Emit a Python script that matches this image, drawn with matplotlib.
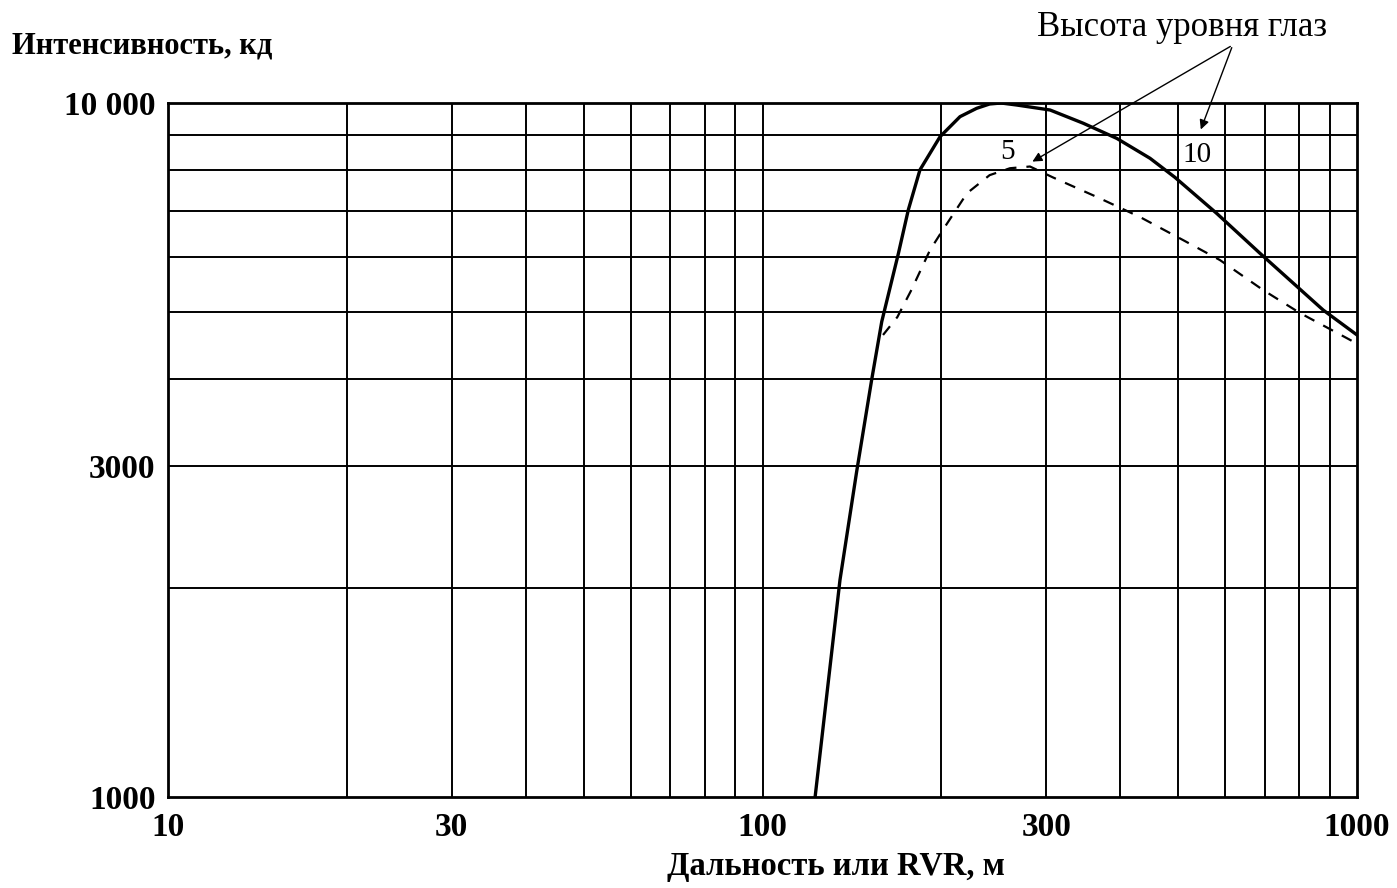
import matplotlib
matplotlib.use("Agg")
import matplotlib.pyplot as plt
from matplotlib.ticker import FixedLocator, NullFormatter

plt.rcParams['font.family'] = ['Liberation Serif', 'DejaVu Serif']

# ---- data ----
solid_x = [122.6, 135, 144, 152.7, 158.7, 169.3, 175.9, 184, 198.9, 214.9,
           229.2, 241, 252, 267.7, 304.6, 346.4, 394.4, 448.6, 494, 580.7, 686.8,
           877.5, 1000]
solid_y = [1000, 2055, 2943, 4002, 4841, 6073, 7015, 8009, 8942, 9557,
           9825, 9967, 10000, 9933, 9770, 9350, 8892, 8324, 7814, 6934, 6073,
           5030, 4632]

dash_x = [159.5, 168.6, 178, 191.3, 201, 220.8, 241, 260.8, 281.8, 308, 365,
          431.5, 509.6, 588, 695, 801.7, 962, 1000]
dash_y = [4632, 4916, 5377, 6138, 6560, 7413, 7871, 8054, 8100, 7812, 7322,
          6850, 6347, 5939, 5377, 4982, 4582, 4500]

x_ticks = [10, 30, 100, 300, 1000]
x_ticklabels = ["10", "30", "100", "300", "1000"]
y_ticks = [1000, 3000, 10000]
y_ticklabels = ["1000", "3000", "10 000"]
x_grid = [20, 30, 40, 50, 60, 70, 80, 90, 100, 200, 300, 400, 500, 600, 700, 800, 900]
y_grid = [2000, 3000, 4000, 5000, 6000, 7000, 8000, 9000]

title_y = "Интенсивность, кд"
title_x = "Дальность или RVR, м"
annot_text = "Высота уровня глаз"
label_5 = "5"
label_10 = "10"

# ---- figure ----
fig = plt.figure(figsize=(13.97, 8.88), dpi=100)
ax = fig.add_axes([168/1397, 91/888, (1357-168)/1397, (797-103)/888])
ax.set_xscale('log')
ax.set_yscale('log')
ax.set_xlim(10, 1000)
ax.set_ylim(1000, 10000)

for gx in x_grid:
    ax.axvline(gx, color='black', lw=1.4, zorder=1)
for gy in y_grid:
    ax.axhline(gy, color='black', lw=1.4, zorder=1)

ax.plot(solid_x, solid_y, color='black', lw=2.4, zorder=3, solid_joinstyle='round')
ax.plot(dash_x, dash_y, color='black', lw=1.6, linestyle=(0, (5, 4.5)), zorder=3)

for s in ax.spines.values():
    s.set_color('black')
    s.set_linewidth(2.0)

ax.xaxis.set_major_locator(FixedLocator(x_ticks))
ax.xaxis.set_minor_locator(FixedLocator([]))
ax.xaxis.set_minor_formatter(NullFormatter())
ax.set_xticklabels(x_ticklabels)
ax.yaxis.set_major_locator(FixedLocator(y_ticks))
ax.yaxis.set_minor_locator(FixedLocator([]))
ax.yaxis.set_minor_formatter(NullFormatter())
ax.set_yticklabels(y_ticklabels)
ax.tick_params(axis='x', length=0, labelsize=24, pad=11)
ax.tick_params(axis='y', length=0, labelsize=24, pad=9)
for lab in ax.get_xticklabels() + ax.get_yticklabels():
    lab.set_fontweight('bold')

fig.text(12/1397, 1 - 46/888, title_y, fontsize=22, fontweight='bold',
         ha='left', va='center')
fig.text(836/1397, 1 - 866/888, title_x, fontsize=23.5, fontweight='bold',
         ha='center', va='center')
fig.text(1182/1397, 1 - 28/888, annot_text, fontsize=25,
         ha='center', va='center')

tail = (618, 12120)
ax.annotate("", xy=(281.8, 8195), xytext=tail, xycoords='data', textcoords='data',
            arrowprops=dict(arrowstyle='-|>', color='black', lw=1.0,
                            mutation_scale=14), annotation_clip=False, zorder=5)
ax.annotate("", xy=(544, 9080), xytext=tail, xycoords='data', textcoords='data',
            arrowprops=dict(arrowstyle='-|>', color='black', lw=1.0,
                            mutation_scale=14), annotation_clip=False, zorder=5)
ax.text(257.8, 8492, label_5, fontsize=21, ha='center', va='center', zorder=5)
ax.text(538, 8414, label_10, fontsize=21, ha='center', va='center', zorder=5)

fig.savefig("out.png", dpi=100, facecolor='white')
